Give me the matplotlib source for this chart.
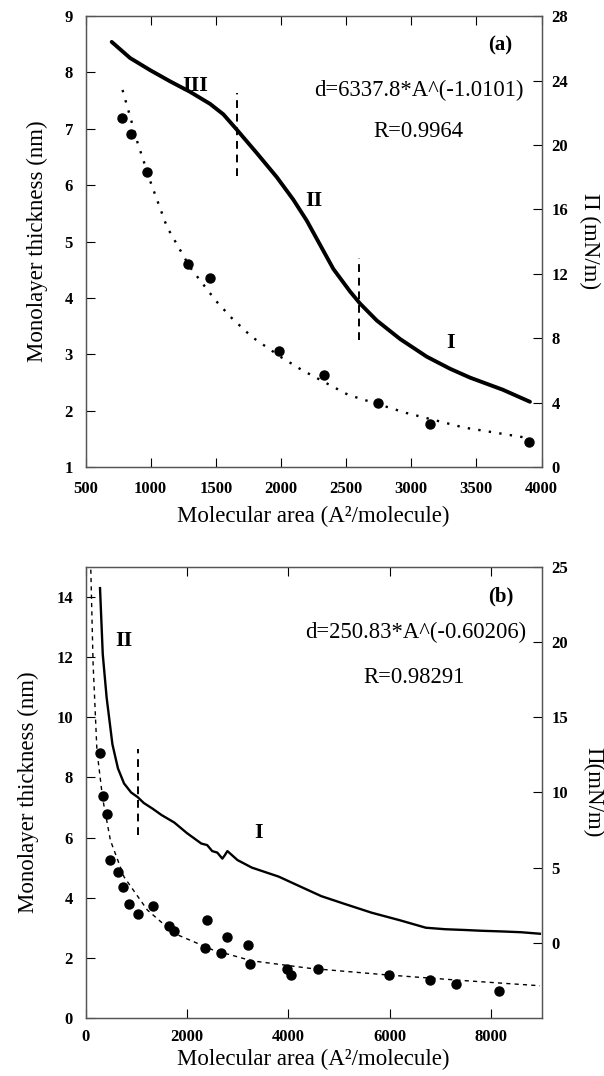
import matplotlib.pyplot as plt

plt.rcParams['font.family'] = ['Liberation Serif', 'DejaVu Serif']

# ---- panel (a) data ----
# surface pressure isotherm (right axis, mN/m)
iso_a_area = [701, 842, 995, 1149, 1302, 1456, 1558, 1661, 1814, 1968, 2095, 2198, 2300, 2402,
              2530, 2607, 2735, 2914, 3119, 3298, 3451, 3702, 3911]
iso_a_pi = [26.4, 25.4, 24.65, 23.95, 23.3, 22.55, 21.9, 20.95, 19.5, 18.0, 16.6, 15.3, 13.8, 12.3,
            10.9, 10.15, 9.1, 7.95, 6.85, 6.1, 5.55, 4.8, 4.05]
# thickness points (left axis, nm)
dot_a_area = [778, 852, 971, 1284, 1456, 1983, 2332, 2744, 3143, 3901]
dot_a_d = [7.20, 6.90, 6.24, 4.60, 4.35, 3.06, 2.63, 2.13, 1.76, 1.44]
# fitted curve
fit_a_area = [784, 900, 1000, 1125, 1300, 1500, 1619, 1776, 2000, 2161, 2516, 2960, 3404, 3907]
fit_a_d = [7.69, 6.75, 6.05, 5.26, 4.55, 3.95, 3.65, 3.31, 2.95, 2.72, 2.28, 1.96, 1.70, 1.51]
# phase boundaries (x, Π from, Π to)
vlines_a = [(1661, 18.1, 23.2), (2599, 7.9, 13.0)]

# ---- panel (b) data ----
iso_b_area = [286, 340, 417, 531, 640, 760, 900, 1026, 1150, 1333, 1500, 1752, 2000, 2286, 2400, 2500,
              2600, 2700, 2744, 2800, 3000, 3283, 3813, 4200, 4654, 5100, 5646, 6200, 6716, 7100,
              7480, 7800, 8241, 8600, 8967]
iso_b_pi = [23.6, 19.2, 16.3, 13.2, 11.6, 10.6, 10.0, 9.7, 9.3, 8.9, 8.5, 8.0, 7.3, 6.6, 6.5, 6.1,
            6.0, 5.6, 5.8, 6.1, 5.5, 5.0, 4.4, 3.8, 3.1, 2.6, 2.0, 1.5, 1.0, 0.9,
            0.85, 0.8, 0.75, 0.7, 0.6]
dot_b_area = [286, 338, 431, 492, 646, 738, 859, 1042, 1333, 1654, 1737, 2388, 2365, 2677, 2798,
              3202, 3241, 3981, 4059, 4592, 5990, 6807, 7311, 8166]
dot_b_d = [8.81, 7.39, 6.77, 5.25, 4.84, 4.34, 3.78, 3.46, 3.73, 3.07, 2.90, 3.26, 2.32, 2.15, 2.70,
           2.43, 1.79, 1.62, 1.43, 1.62, 1.42, 1.26, 1.12, 0.91]
fit_b_area = [95, 103, 149, 225, 338, 492, 760, 1220, 1752, 2515, 3280, 4425, 5950, 7480, 8967]
fit_b_d = [16.3, 15.0, 11.8, 8.9, 7.3, 5.9, 4.69, 3.59, 2.81, 2.26, 1.9, 1.65, 1.43, 1.24, 1.07]
vline_b = (1026, 7.2, 12.9)

fig = plt.figure(figsize=(6.04, 10.76), dpi=100)

tick_kw = dict(direction='in', length=6.5, width=0.8, labelsize=12)


def style(ax, ax2, xpad):
    for a in (ax, ax2):
        for s in a.spines.values():
            s.set_linewidth(0.9)
            s.set_color('#555555')
    ax.tick_params(axis='x', top=True, pad=xpad, **tick_kw)
    ax.tick_params(axis='y', pad=9, **tick_kw)
    ax2.tick_params(axis='y', pad=7, **tick_kw)
    for lab in ax.get_xticklabels() + ax.get_yticklabels() + ax2.get_yticklabels():
        lab.set_fontweight('bold')


# ---------------- (a) ----------------
ax = fig.add_axes([0.1416, 0.566, 0.755, 0.419])
ax2 = ax.twinx()
ax.plot(fit_a_area, fit_a_d, color='black', linestyle=(0, (1, 3.5)), lw=1.7)
ax.plot(dot_a_area, dot_a_d, 'o', color='black', markersize=6.5)
ax2.plot(iso_a_area, iso_a_pi, color='black', lw=2.8, solid_capstyle='round', solid_joinstyle='round')
for x, y0, y1 in vlines_a:
    ax2.plot([x, x], [y0, y1], color='black', lw=1.4, linestyle=(0, (4, 3)))
ax.set_xlim(500, 4000)
ax.set_ylim(1, 9)
ax2.set_ylim(0, 28)
ax.set_xticks([500, 1000, 1500, 2000, 2500, 3000, 3500, 4000])
ax.set_yticks(range(1, 10))
ax2.set_yticks(range(0, 29, 4))
style(ax, ax2, 10)
ax.set_xlabel('Molecular area (A²/molecule)', fontsize=16.5)
ax.set_ylabel('Monolayer thickness (nm)', fontsize=16.5)
ax2.set_ylabel('Π (mN/m)', fontsize=16.5, rotation=270)
ax.xaxis.set_label_coords(0.5, -0.086)
ax.yaxis.set_label_coords(-0.082, 0.5)
ax2.yaxis.set_label_coords(1.129, 0.5)
ax.text(0.91, 0.935, '(a)', transform=ax.transAxes, fontsize=15, fontweight='bold', ha='center', va='center')
ax.text(0.73, 0.835, 'd=6337.8*A^(-1.0101)', transform=ax.transAxes, fontsize=16.3, ha='center', va='center')
ax.text(0.73, 0.745, 'R=0.9964', transform=ax.transAxes, fontsize=16.3, ha='center', va='center')
ax.text(0.24, 0.845, 'III', transform=ax.transAxes, fontsize=16, fontweight='bold', ha='center', va='center')
ax.text(0.50, 0.59, 'II', transform=ax.transAxes, fontsize=16, fontweight='bold', ha='center', va='center')
ax.text(0.80, 0.275, 'I', transform=ax.transAxes, fontsize=16, fontweight='bold', ha='center', va='center')

# ---------------- (b) ----------------
bx = fig.add_axes([0.1416, 0.054, 0.755, 0.419])
bx2 = bx.twinx()
bx.plot(fit_b_area, fit_b_d, color='black', linestyle=(0, (3, 3)), lw=1.0)
bx.plot(dot_b_area, dot_b_d, 'o', color='black', markersize=6.5)
bx2.plot(iso_b_area, iso_b_pi, color='black', lw=1.7)
bx2.plot([vline_b[0]] * 2, vline_b[1:], color='black', lw=1.4, linestyle=(0, (4, 3)))
bx.set_xlim(0, 9000)
bx.set_ylim(0, 15)
bx2.set_ylim(-5, 25)
bx.set_xticks([0, 2000, 4000, 6000, 8000])
bx.set_yticks(range(0, 15, 2))
bx2.set_yticks(range(0, 26, 5))
style(bx, bx2, 8)
bx.set_xlabel('Molecular area (A²/molecule)', fontsize=16.5)
bx.set_ylabel('Monolayer thickness (nm)', fontsize=16.5)
bx2.set_ylabel('Π(mN/m)', fontsize=16.5, rotation=270)
bx.xaxis.set_label_coords(0.5, -0.069)
bx.yaxis.set_label_coords(-0.103, 0.5)
bx2.yaxis.set_label_coords(1.135, 0.5)
bx.text(0.91, 0.935, '(b)', transform=bx.transAxes, fontsize=15, fontweight='bold', ha='center', va='center')
bx.text(0.725, 0.855, 'd=250.83*A^(-0.60206)', transform=bx.transAxes, fontsize=16.3, ha='center', va='center')
bx.text(0.72, 0.755, 'R=0.98291', transform=bx.transAxes, fontsize=16.3, ha='center', va='center')
bx.text(0.085, 0.835, 'II', transform=bx.transAxes, fontsize=16, fontweight='bold', ha='center', va='center')
bx.text(0.38, 0.41, 'I', transform=bx.transAxes, fontsize=16, fontweight='bold', ha='center', va='center')

fig.savefig('out.png', dpi=100)
